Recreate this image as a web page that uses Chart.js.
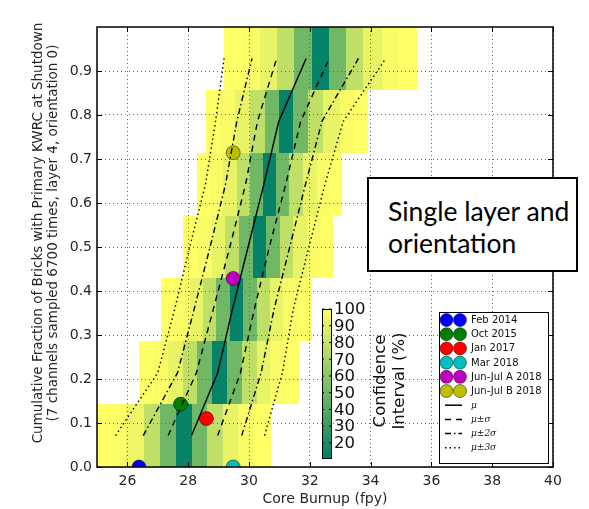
<!DOCTYPE html>
<html>
<head>
<meta charset="utf-8">
<script src="https://cdn.jsdelivr.net/npm/chart.js@4.4.0/dist/chart.umd.min.js"></script>
<style>
  body { margin: 0; background: #fff; }
  #wrap { position: relative; width: 589px; height: 509px; }
  #note {
    position: absolute; left: 367px; top: 177px; width: 211px; height: 95px;
    box-sizing: border-box; border: 2px solid #000; background: #fff;
    font-family: "Lato", "Open Sans", sans-serif; font-size: 26.5px; line-height: 32px;
    padding: 16px 0 0 19px; color: #000; white-space: nowrap;
  }
</style>
</head>
<body>
<div id="wrap">
  <canvas id="chart" width="589" height="509"></canvas>
  <div id="note">Single layer and<br>orientation</div>
</div>
<script>
// Axis ticks
const xTickValues = [26, 28, 30, 32, 34, 36, 38, 40];
const yTickValues = [0.0, 0.1, 0.2, 0.3, 0.4, 0.5, 0.6, 0.7, 0.8, 0.9];
const colorbarTicks = [20, 30, 40, 50, 60, 70, 80, 90, 100];
const ciMin = 11;
const ciMax = 100;

const yTitleLines = ['Cumulative Fraction of Bricks with Primary KWRC at Shutdown',
                     '(7 channels sampled 6700 times, layer 4, orientation 0)'];

// Heatmap rows (7 channels -> 7 bands of cumulative fraction)
const rowBounds = [0, 0.1429, 0.2857, 0.4286, 0.5714, 0.7143, 0.8571, 1.0];
const rowCenters = [0.0714, 0.2143, 0.3571, 0.5, 0.6429, 0.7857, 0.9286];

// Burnup bin edges and confidence interval (%) per row
const edgesRow0 = [24.93, 25.45, 25.97, 26.54, 27.07, 27.59, 28.11, 28.62, 29.14, 29.65, 30.18, 30.72];
const ciRow0 = [100, 99, 94, 78, 50, 13, 50, 78, 92, 98, 100];
const edgesRow1 = [26.37, 26.86, 27.34, 27.83, 28.29, 28.79, 29.26, 29.76, 30.25, 30.69, 31.18, 31.66];
const ciRow1 = [100, 98, 92, 78, 50, 13, 50, 78, 92, 98, 100];
const edgesRow2 = [27.12, 27.58, 28.05, 28.49, 28.93, 29.37, 29.81, 30.25, 30.69, 31.13, 31.60, 32.06];
const ciRow2 = [100, 98, 92, 78, 50, 13, 50, 78, 92, 98, 100];
const edgesRow3 = [27.83, 28.30, 28.77, 29.21, 29.68, 30.12, 30.56, 31.02, 31.46, 31.90, 32.34, 32.77];
const ciRow3 = [100, 98, 92, 78, 50, 13, 50, 78, 92, 98, 100];
const edgesRow4 = [28.28, 28.72, 29.15, 29.59, 30.03, 30.47, 30.89, 31.33, 31.77, 32.23, 32.64, 33.05];
const ciRow4 = [100, 98, 92, 78, 50, 13, 50, 78, 92, 98, 100];
const edgesRow5 = [28.58, 29.06, 29.55, 30.03, 30.52, 30.99, 31.44, 31.95, 32.45, 33.00, 33.45, 33.90];
const ciRow5 = [100, 98, 92, 78, 50, 13, 50, 78, 92, 98, 100];
const edgesRow6 = [29.17, 29.77, 30.36, 30.91, 31.48, 32.06, 32.64, 33.19, 33.76, 34.37, 34.95, 35.52];
const ciRow6 = [100, 98, 92, 78, 50, 13, 50, 78, 92, 98, 100];

const heatEdges = [edgesRow0, edgesRow1, edgesRow2, edgesRow3, edgesRow4, edgesRow5, edgesRow6];
const heatCI = [ciRow0, ciRow1, ciRow2, ciRow3, ciRow4, ciRow5, ciRow6];

// Fitted curves (burnup at each row centre)
const muLine = [28.11, 28.97, 29.45, 29.97, 30.49, 30.98, 31.88];
const muMinus1 = [27.34, 28.27, 28.82, 29.37, 29.89, 30.28, 30.91];
const muPlus1 = [28.97, 29.72, 30.17, 30.67, 31.21, 31.70, 32.64];
const muMinus2 = [26.52, 27.65, 28.19, 28.72, 29.23, 29.60, 30.10];
const muPlus2 = [29.76, 30.40, 30.82, 31.34, 31.86, 32.40, 33.60];
const muMinus3 = [25.61, 27.00, 27.55, 28.05, 28.57, 28.90, 29.18];
const muPlus3 = [30.51, 31.10, 31.45, 31.97, 32.50, 33.10, 34.50];

// Inspections
const obsLabels = ['Feb 2014', 'Oct 2015', 'Jan 2017', 'Mar 2018', 'Jun-Jul A 2018', 'Jun-Jul B 2018'];
const obsBurnup = [26.38, 27.75, 28.60, 29.48, 29.48, 29.48];
const obsFraction = [0.0, 0.1429, 0.11, 0.0, 0.4286, 0.7143];
const obsColors = ['#0000ff', '#008000', '#ff0000', '#00bfbf', '#bf00bf', '#bfbf00'];

const curveLabels = ['\u03bc', '\u03bc\u00b1\u03c3', '\u03bc\u00b12\u03c3', '\u03bc\u00b13\u03c3'];
const curveDash = [[], [6, 5], [6, 3, 1.5, 3], [1.5, 3]];

const textColor = '#262626';
const tickFont = { family: 'DejaVu Sans', size: 14 };

// summer colormap
function summer(v) {
    let s = (v - ciMin) / (ciMax - ciMin);
    s = Math.max(0, Math.min(1, s));
    return `rgb(${Math.round(255 * s)},${Math.round(255 * (0.5 + 0.5 * s))},102)`;
}

function curvePoints(xs) {
    return xs.map((x, i) => ({ x: x, y: rowCenters[i] }));
}

// Heatmap drawn under the grid
const heatmapPlugin = {
    id: 'heatmap',
    beforeDraw(chart) {
        const { ctx, chartArea: a, scales: { x, y } } = chart;
        ctx.save();
        ctx.beginPath();
        ctx.rect(a.left, a.top, a.right - a.left, a.bottom - a.top);
        ctx.clip();
        heatEdges.forEach((edges, r) => {
            const yTop = Math.round(y.getPixelForValue(rowBounds[r + 1]));
            const yBot = Math.round(y.getPixelForValue(rowBounds[r]));
            heatCI[r].forEach((ci, i) => {
                const x0 = Math.round(x.getPixelForValue(edges[i]));
                const x1 = Math.round(x.getPixelForValue(edges[i + 1]));
                ctx.fillStyle = summer(ci);
                ctx.fillRect(x0, yTop, x1 - x0, yBot - yTop);
            });
        });
        ctx.restore();
    }
};

// Frame, inward ticks, y title, colorbar and legend
const overlayPlugin = {
    id: 'overlay',
    afterDraw(chart) {
        const { ctx, chartArea: a, scales: { x, y } } = chart;
        ctx.save();

        // inward ticks
        ctx.strokeStyle = '#000';
        ctx.lineWidth = 1;
        ctx.beginPath();
        xTickValues.forEach(v => {
            const px = Math.round(x.getPixelForValue(v)) + 0.5;
            ctx.moveTo(px, a.bottom); ctx.lineTo(px, a.bottom - 5);
            ctx.moveTo(px, a.top); ctx.lineTo(px, a.top + 5);
        });
        yTickValues.forEach(v => {
            const py = Math.round(y.getPixelForValue(v)) + 0.5;
            ctx.moveTo(a.left, py); ctx.lineTo(a.left + 5, py);
            ctx.moveTo(a.right, py); ctx.lineTo(a.right - 5, py);
        });
        ctx.stroke();

        // frame
        ctx.lineWidth = 1.5;
        ctx.strokeRect(a.left, a.top, a.right - a.left, a.bottom - a.top);

        // y axis title (two lines, rotated)
        ctx.save();
        ctx.translate(38, 233);
        ctx.rotate(-Math.PI / 2);
        ctx.font = '13.5px "DejaVu Sans"';
        ctx.fillStyle = textColor;
        ctx.textAlign = 'center';
        ctx.textBaseline = 'middle';
        ctx.fillText(yTitleLines[0], 0, 0);
        ctx.fillText(yTitleLines[1], 0, 15.5);
        ctx.restore();

        // colorbar
        const cb = { left: 322, right: 331, top: 309, bottom: 458 };
        const grad = ctx.createLinearGradient(0, cb.bottom, 0, cb.top);
        for (let k = 0; k <= 10; k++) {
            grad.addColorStop(k / 10, summer(ciMin + (ciMax - ciMin) * k / 10));
        }
        ctx.fillStyle = grad;
        ctx.fillRect(cb.left, cb.top, cb.right - cb.left, cb.bottom - cb.top);
        ctx.lineWidth = 1;
        ctx.strokeStyle = '#000';
        ctx.strokeRect(cb.left + 0.5, cb.top + 0.5, cb.right - cb.left, cb.bottom - cb.top);
        ctx.font = '16.5px "DejaVu Sans"';
        ctx.fillStyle = '#111';
        ctx.textAlign = 'left';
        ctx.textBaseline = 'middle';
        colorbarTicks.forEach(v => {
            const py = cb.bottom - (v - ciMin) / (ciMax - ciMin) * (cb.bottom - cb.top);
            ctx.beginPath();
            ctx.moveTo(cb.left, py); ctx.lineTo(cb.left + 2, py);
            ctx.moveTo(cb.right, py); ctx.lineTo(cb.right - 2, py);
            ctx.stroke();
            ctx.fillText(String(v), cb.right + 3, py + 1);
        });
        ctx.save();
        ctx.translate(390, 381);
        ctx.rotate(-Math.PI / 2);
        ctx.textAlign = 'center';
        ctx.fillText('Confidence', 0, -9);
        ctx.fillText('Interval (%)', 0, 10);
        ctx.restore();

        // legend
        const lg = { left: 439, top: 312, right: 548, bottom: 463 };
        ctx.fillStyle = '#fff';
        ctx.fillRect(lg.left, lg.top, lg.right - lg.left, lg.bottom - lg.top);
        ctx.strokeStyle = '#000';
        ctx.lineWidth = 1;
        ctx.strokeRect(lg.left + 0.5, lg.top + 0.5, lg.right - lg.left, lg.bottom - lg.top);
        const rowStep = 14.2;
        let ly = 320;
        ctx.textAlign = 'left';
        ctx.textBaseline = 'middle';
        obsLabels.forEach((label, i) => {
            [446.5, 460].forEach(cx => {
                ctx.beginPath();
                ctx.arc(cx, ly, 6.5, 0, Math.PI * 2);
                ctx.fillStyle = obsColors[i];
                ctx.fill();
                ctx.strokeStyle = 'rgba(0,0,0,0.6)';
                ctx.lineWidth = 0.8;
                ctx.stroke();
            });
            ctx.fillStyle = '#111';
            ctx.font = '10px "DejaVu Sans"';
            ctx.fillText(label, 471, ly + 0.5);
            ly += rowStep;
        });
        curveLabels.forEach((label, i) => {
            ctx.strokeStyle = '#000';
            ctx.lineWidth = 1.5;
            ctx.setLineDash(curveDash[i]);
            ctx.beginPath();
            ctx.moveTo(445, ly); ctx.lineTo(462, ly);
            ctx.stroke();
            ctx.setLineDash([]);
            ctx.fillStyle = '#111';
            ctx.font = 'italic 9px "DejaVu Serif"';
            ctx.fillText(label, 471, ly);
            ly += rowStep;
        });

        ctx.restore();
    }
};

const curveSets = [
    { data: muLine, dash: curveDash[0] },
    { data: muMinus1, dash: curveDash[1] },
    { data: muPlus1, dash: curveDash[1] },
    { data: muMinus2, dash: curveDash[2] },
    { data: muPlus2, dash: curveDash[2] },
    { data: muMinus3, dash: curveDash[3] },
    { data: muPlus3, dash: curveDash[3] }
];

const datasets = [];
curveSets.forEach(c => {
    datasets.push({
        data: curvePoints(c.data),
        showLine: true,
        borderColor: '#000',
        borderWidth: 1.4,
        borderDash: c.dash,
        pointRadius: 0,
        pointHoverRadius: 0,
        fill: false,
        tension: 0
    });
});
obsLabels.forEach((label, i) => {
    datasets.push({
        label: label,
        data: [{ x: obsBurnup[i], y: obsFraction[i] }],
        backgroundColor: obsColors[i],
        borderColor: 'rgba(0,0,0,0.6)',
        borderWidth: 0.8,
        pointRadius: 7,
        clip: 0
    });
});

new Chart(document.getElementById('chart'), {
    type: 'scatter',
    data: { datasets: datasets },
    options: {
        responsive: false,
        animation: false,
        devicePixelRatio: 1,
        layout: { padding: { left: 0, right: 36, top: 27, bottom: 0 } },
        plugins: { legend: { display: false }, tooltip: { enabled: false } },
        scales: {
            x: {
                type: 'linear',
                min: 25,
                max: 40,
                afterBuildTicks: s => { s.ticks = xTickValues.map(v => ({ value: v })); },
                afterFit: s => { s.height = 42; },
                grid: { color: '#666', lineWidth: 1, drawTicks: false },
                border: { display: false, dash: [1, 3] },
                ticks: { color: textColor, font: tickFont, padding: 6, maxRotation: 0 },
                title: {
                    display: true,
                    text: 'Core Burnup (fpy)',
                    color: textColor,
                    font: tickFont,
                    padding: { top: 0, bottom: 1 }
                }
            },
            y: {
                type: 'linear',
                min: 0,
                max: 1,
                afterBuildTicks: s => { s.ticks = yTickValues.map(v => ({ value: v })); },
                afterFit: s => { s.width = 97; },
                grid: { color: '#666', lineWidth: 1, drawTicks: false },
                border: { display: false, dash: [1, 3] },
                ticks: { color: textColor, font: tickFont, padding: 5, callback: v => v.toFixed(1) },
                title: { display: false }
            }
        }
    },
    plugins: [heatmapPlugin, overlayPlugin]
});
</script>
</body>
</html>
